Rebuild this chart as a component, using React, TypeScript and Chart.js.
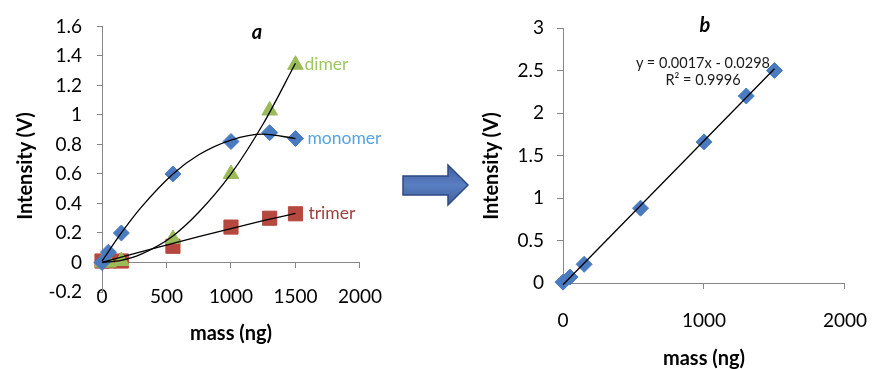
import React, { useEffect, useRef } from "react";
import { Chart, registerables } from "chart.js";

Chart.register(...registerables);

// ---------- data ----------
const massA = [0, 50, 150, 550, 1000, 1300, 1500];
const monomer = [0.0, 0.07, 0.2, 0.6, 0.82, 0.88, 0.84];
const dimer = [0.0, 0.0, 0.01, 0.16, 0.6, 1.03, 1.34];
const trimer = [0.01, 0.01, 0.01, 0.11, 0.24, 0.3, 0.33];

const trendMassA = [0, 150, 300, 550, 750, 1000, 1250, 1500];
const monomerTrend = [0.01, 0.2, 0.37, 0.6, 0.73, 0.83, 0.87, 0.84];
const dimerTrend = [0.0, 0.015, 0.055, 0.18, 0.34, 0.6, 0.94, 1.35];
const trimerTrend = [0.0, 0.036, 0.072, 0.13, 0.175, 0.23, 0.283, 0.333];

const massB = [0, 50, 150, 550, 1000, 1300, 1500];
const totalB = [0.01, 0.07, 0.22, 0.88, 1.66, 2.2, 2.5];
const fitMassB = [0, 1500];
const fitB = [-0.02, 2.52];

const seriesNames = ["monomer", "dimer", "trimer"];
const panelTitles = ["a", "b"];
const equationLines = ["y = 0.0017x - 0.0298", "R² = 0.9996"];
const xTitle = "mass (ng)";
const yTitle = "Intensity (V)";

const aXTicks = ["0", "500", "1000", "1500", "2000"];
const aYTicks = ["-0.2", "0", "0.2", "0.4", "0.6", "0.8", "1", "1.2", "1.4", "1.6"];
const bXTicks = ["0", "1000", "2000"];
const bYTicks = ["0", "0.5", "1", "1.5", "2", "2.5", "3"];

// ---------- styles ----------
const FONT = "Lato";
const AXIS = "#868686";
const BLUE = "#4A7BC0";
const GREEN = "#9BBB59";
const RED = "#B5493F";

const pick = (labels: string[]) => (v: number | string) => {
  const n = Number(v);
  const l = labels.find((s) => Math.abs(parseFloat(s) - n) < 1e-6);
  return l ?? "";
};

const pts = (xs: number[], ys: number[]) => xs.map((x, i) => ({ x, y: ys[i] }));

const seriesLabelPlugin = {
  id: "seriesEndLabels",
  afterDatasetsDraw(chart: any) {
    const ctx = chart.ctx;
    chart.data.datasets.forEach((ds: any, i: number) => {
      if (!ds.endLabel) return;
      const meta = chart.getDatasetMeta(i);
      const el = meta.data[meta.data.length - 1];
      if (!el) return;
      ctx.save();
      ctx.font = `17.5px ${FONT}`;
      ctx.fillStyle = ds.endLabelColor;
      ctx.textAlign = "left";
      ctx.textBaseline = "middle";
      ctx.fillText(ds.endLabel, el.x + ds.endLabelOffset, el.y);
      ctx.restore();
    });
  },
};

const tickFont = { family: FONT, size: 19 };
const titleFont = { family: FONT, size: 20, weight: "bold" as const };

function makeChartA(canvas: HTMLCanvasElement) {
  const trend = (ys: number[]) => ({
    data: pts(trendMassA, ys),
    showLine: true,
    pointRadius: 0,
    borderColor: "#000",
    borderWidth: 1.3,
    cubicInterpolationMode: "monotone" as const,
    clip: false,
    order: 0,
  });
  const marker = (
    name: string,
    ys: number[],
    style: string,
    r: number,
    color: string,
    labelColor: string,
    off: number
  ) => ({
    label: name,
    data: pts(massA, ys),
    showLine: false,
    pointStyle: style,
    pointRadius: r,
    pointBackgroundColor: color,
    pointBorderColor: color,
    pointBorderWidth: 1,
    clip: false,
    order: 1,
    endLabel: name,
    endLabelColor: labelColor,
    endLabelOffset: off,
  });
  return new Chart(canvas, {
    type: "scatter",
    data: {
      datasets: [
        trend(monomerTrend),
        trend(dimerTrend),
        trend(trimerTrend),
        marker(seriesNames[0], monomer, "rectRot", 8, BLUE, "#58A3E2", 12),
        marker(seriesNames[1], dimer, "triangle", 9, GREEN, "#9DC85E", 9),
        marker(seriesNames[2], trimer, "rect", 10, RED, "#A0403C", 13),
      ] as any,
    },
    options: {
      responsive: false,
      animation: false,
      layout: { padding: { left: 0, top: 22, right: 33, bottom: 0 } },
      plugins: { legend: { display: false }, tooltip: { enabled: false }, title: { display: false } },
      scales: {
        x: {
          type: "linear",
          position: { y: 0 } as any,
          min: 0,
          max: 2000,
          ticks: { stepSize: 500, padding: 18, font: tickFont, color: "#000", callback: pick(aXTicks) },
          grid: { drawOnChartArea: false, tickLength: 5, color: AXIS, tickColor: AXIS },
          border: { color: AXIS, width: 1 },
        },
        xTitle: {
          type: "linear",
          axis: "x",
          position: "bottom",
          min: 0,
          max: 2000,
          ticks: { display: false },
          grid: { display: false, drawTicks: false },
          border: { display: false },
          title: { display: true, text: xTitle, font: titleFont, color: "#000", padding: { top: 0, bottom: 23.5 } },
          afterFit: (s: any) => {
            s.height = 77;
          },
        },
        y: {
          type: "linear",
          position: "left",
          min: -0.2,
          max: 1.6,
          ticks: { stepSize: 0.2, padding: 15, font: tickFont, color: "#000", callback: pick(aYTicks) },
          grid: { drawOnChartArea: false, tickLength: 5, color: AXIS, tickColor: AXIS },
          border: { color: AXIS, width: 1 },
          afterFit: (s: any) => {
            s.width = 102;
          },
        },
      } as any,
    },
    plugins: [seriesLabelPlugin],
  });
}

function makeChartB(canvas: HTMLCanvasElement) {
  return new Chart(canvas, {
    type: "scatter",
    data: {
      datasets: [
        {
          data: pts(fitMassB, fitB),
          showLine: true,
          pointRadius: 0,
          borderColor: "#000",
          borderWidth: 1.3,
          clip: false,
          order: 0,
        },
        {
          label: "total",
          data: pts(massB, totalB),
          showLine: false,
          pointStyle: "rectRot",
          pointRadius: 8,
          pointBackgroundColor: BLUE,
          pointBorderColor: BLUE,
          pointBorderWidth: 1,
          clip: false,
          order: 1,
        },
      ] as any,
    },
    options: {
      responsive: false,
      animation: false,
      layout: { padding: { left: 0, top: 28, right: 24, bottom: 0 } },
      plugins: { legend: { display: false }, tooltip: { enabled: false }, title: { display: false } },
      scales: {
        x: {
          type: "linear",
          position: "bottom",
          min: 0,
          max: 2000,
          ticks: { stepSize: 1000, padding: 20, font: tickFont, color: "#000", callback: pick(bXTicks) },
          grid: { drawOnChartArea: false, tickLength: 6, color: AXIS, tickColor: AXIS },
          border: { color: AXIS, width: 1 },
          title: { display: true, text: xTitle, font: titleFont, color: "#000", padding: { top: 0, bottom: -1.5 } },
          afterFit: (s: any) => {
            s.height = 86;
          },
        },
        y: {
          type: "linear",
          position: "left",
          min: 0,
          max: 3,
          ticks: { stepSize: 0.5, padding: 13, font: tickFont, color: "#000", callback: pick(bYTicks) },
          grid: { drawOnChartArea: false, tickLength: 6, color: AXIS, tickColor: AXIS },
          border: { color: AXIS, width: 1 },
          afterFit: (s: any) => {
            s.width = 93;
          },
        },
      } as any,
    },
  });
}

function YTitle({ cx, cy }: { cx: number; cy: number }) {
  return (
    <div
      style={{
        position: "absolute",
        left: cx - 100,
        top: cy - 12,
        width: 200,
        height: 24,
        lineHeight: "24px",
        textAlign: "center",
        fontFamily: FONT,
        fontWeight: "bold",
        fontSize: 20,
        color: "#000",
        transform: "rotate(-90deg)",
        transformOrigin: "50% 50%",
        whiteSpace: "nowrap",
      }}
    >
      {yTitle}
    </div>
  );
}

export default function App() {
  const refA = useRef<HTMLCanvasElement>(null);
  const refB = useRef<HTMLCanvasElement>(null);

  useEffect(() => {
    const a = refA.current ? makeChartA(refA.current) : null;
    const b = refB.current ? makeChartB(refB.current) : null;
    return () => {
      a?.destroy();
      b?.destroy();
    };
  }, []);

  const panelTitleStyle: React.CSSProperties = {
    position: "absolute",
    width: 40,
    textAlign: "center",
    fontFamily: FONT,
    fontWeight: "bold",
    fontStyle: "italic",
    fontSize: 20,
    lineHeight: "20px",
    color: "#000",
  };

  return (
    <div
      style={{
        position: "absolute",
        left: 0,
        top: 0,
        width: 887,
        height: 369,
        background: "#fff",
        overflow: "hidden",
      }}
    >
      <canvas ref={refA} width={400} height={369} style={{ position: "absolute", left: 0, top: 0 }} />
      <canvas ref={refB} width={417} height={369} style={{ position: "absolute", left: 470, top: 0 }} />
      <YTitle cx={23.5} cy={166} />
      <YTitle cx={489.5} cy={166} />
      <div style={{ ...panelTitleStyle, left: 237, top: 21 }}>{panelTitles[0]}</div>
      <div style={{ ...panelTitleStyle, left: 685, top: 14 }}>{panelTitles[1]}</div>
      <div
        style={{
          position: "absolute",
          left: 603,
          top: 54,
          width: 200,
          textAlign: "center",
          fontFamily: FONT,
          fontSize: 14.5,
          lineHeight: "17px",
          color: "#1a1a1a",
        }}
      >
        <div>{equationLines[0]}</div>
        <div>{equationLines[1]}</div>
      </div>
      <svg
        width={72}
        height={50}
        style={{ position: "absolute", left: 400, top: 160 }}
        viewBox="0 0 72 50"
      >
        <defs>
          <linearGradient id="arrowFill" x1="0" y1="0" x2="0" y2="1">
            <stop offset="0" stopColor="#3F5F9F" />
            <stop offset="0.5" stopColor="#5A7EC2" />
            <stop offset="1" stopColor="#3F5F9F" />
          </linearGradient>
        </defs>
        <path
          d="M3,16 L48,16 L48,5 L68,25 L48,45 L48,35 L3,35 Z"
          fill="url(#arrowFill)"
          stroke="#2E4A80"
          strokeWidth={1.5}
          strokeLinejoin="miter"
        />
      </svg>
    </div>
  );
}
